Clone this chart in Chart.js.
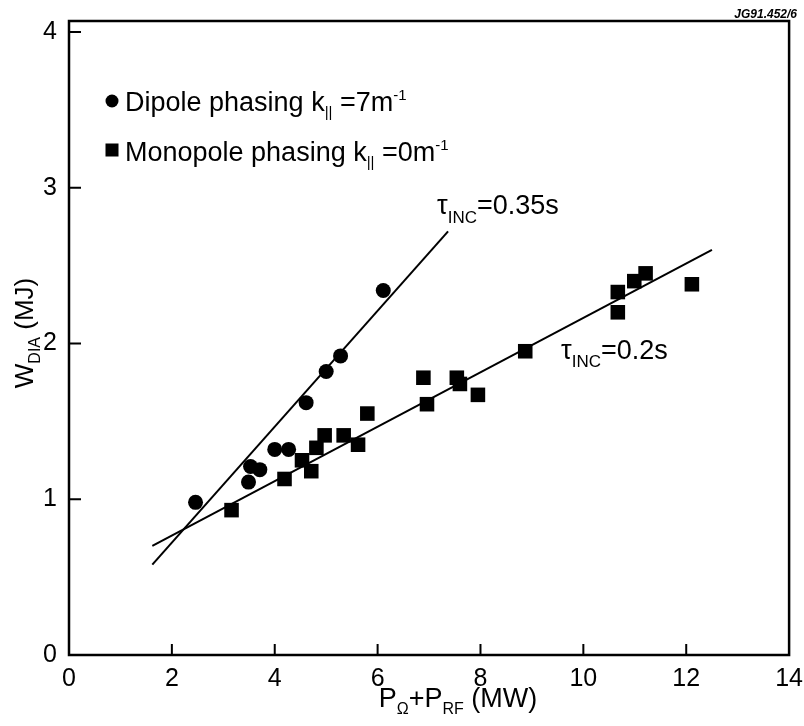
<!DOCTYPE html>
<html><head><meta charset="utf-8">
<script src="https://cdn.jsdelivr.net/npm/chart.js@4"></script>
<style>html,body{margin:0;padding:0;background:#fff;} canvas{display:block}</style>
</head><body>
<canvas id="c" width="804" height="726"></canvas>
<script>
// ---- data ----
const dipoleX = [2.46, 3.49, 3.53, 3.71, 4.00, 4.27, 4.61, 5.00, 5.28, 6.11];
const dipoleY = [0.98, 1.11, 1.21, 1.19, 1.32, 1.32, 1.62, 1.82, 1.92, 2.34];
const monoX = [3.16, 4.19, 4.53, 4.71, 4.81, 4.97, 5.34, 5.62, 5.80, 6.89, 6.96, 7.54, 7.60, 7.95, 8.87, 10.67, 10.67, 10.99, 11.21, 12.11];
const monoY = [0.93, 1.13, 1.25, 1.18, 1.33, 1.41, 1.41, 1.35, 1.55, 1.78, 1.61, 1.78, 1.74, 1.67, 1.95, 2.33, 2.20, 2.40, 2.45, 2.38];
const fit035X = [1.62, 7.37];
const fit035Y = [0.58, 2.72];
const fit02X = [1.62, 12.5];
const fit02Y = [0.70, 2.60];
const xTicks = [0, 2, 4, 6, 8, 10, 12, 14];
const yTicks = [0, 1, 2, 3, 4];
const legendLabels = ['Dipole phasing', 'Monopole phasing'];

const FONT = '"Liberation Sans", Arial, Helvetica, sans-serif';
const pts = (xs, ys) => xs.map((v, i) => ({x: v, y: ys[i]}));

function drawRich(ctx, x, y, parts, align) {
  let w = 0;
  parts.forEach(p => { ctx.font = (p.w || '') + ' ' + p.s + 'px ' + FONT; p.width = ctx.measureText(p.t).width; w += p.width; });
  let cx = align === 'center' ? x - w / 2 : (align === 'right' ? x - w : x);
  ctx.textAlign = 'left'; ctx.textBaseline = 'alphabetic';
  parts.forEach(p => {
    ctx.font = (p.w || '') + ' ' + p.s + 'px ' + FONT;
    ctx.fillText(p.t, cx, y + (p.dy || 0));
    cx += p.width;
  });
}

const decor = {
  id: 'decor',
  afterDraw(chart) {
    const {ctx, chartArea: a, scales: {x, y}} = chart;
    ctx.save();
    ctx.strokeStyle = '#000'; ctx.fillStyle = '#000';
    ctx.lineWidth = 2.5;
    ctx.strokeRect(a.left, a.top, a.right - a.left, a.bottom - a.top);
    ctx.lineWidth = 2;
    ctx.beginPath();
    xTicks.forEach(v => { if (v > x.min && v < x.max) { const p = x.getPixelForValue(v); ctx.moveTo(p, a.bottom); ctx.lineTo(p, a.bottom - 11); } });
    yTicks.forEach(v => { if (v > y.min && v < y.max) { const p = y.getPixelForValue(v); ctx.moveTo(a.left, p); ctx.lineTo(a.left + 12, p); } });
    ctx.stroke();

    // legend
    ctx.beginPath(); ctx.arc(112, 101, 6.5, 0, Math.PI * 2); ctx.fill();
    ctx.fillRect(105.5, 143.5, 13, 13);
    drawRich(ctx, 125, 111, [
      {t: legendLabels[0] + ' k', s: 27}, {t: '||', s: 15, dy: 6}, {t: ' =7m', s: 27}, {t: '-1', s: 15, dy: -11}
    ], 'left');
    drawRich(ctx, 125, 161, [
      {t: legendLabels[1] + ' k', s: 27}, {t: '||', s: 15, dy: 6}, {t: ' =0m', s: 27}, {t: '-1', s: 15, dy: -11}
    ], 'left');

    // fit labels
    drawRich(ctx, 437, 214, [{t: '\u03C4', s: 27}, {t: 'INC', s: 17, dy: 9}, {t: '=0.35s', s: 27}], 'left');
    drawRich(ctx, 561, 359, [{t: '\u03C4', s: 27}, {t: 'INC', s: 17, dy: 8}, {t: '=0.2s', s: 27}], 'left');

    // axis titles
    drawRich(ctx, 458, 707, [{t: 'P', s: 27}, {t: '\u03A9', s: 16, dy: 7}, {t: '+P', s: 27}, {t: 'RF', s: 16, dy: 7}, {t: ' (MW)', s: 27}], 'center');
    ctx.save();
    ctx.translate(33, 333); ctx.rotate(-Math.PI / 2);
    drawRich(ctx, 0, 0, [{t: 'W', s: 26}, {t: 'DIA', s: 16, dy: 7}, {t: ' (MJ)', s: 26}], 'center');
    ctx.restore();

    // figure id
    drawRich(ctx, 797, 18, [{t: 'JG91.452/6', s: 12, w: 'italic bold'}], 'right');
    ctx.restore();
  }
};

new Chart(document.getElementById('c'), {
  type: 'scatter',
  data: {
    datasets: [
      {label: legendLabels[0], data: pts(dipoleX, dipoleY), pointStyle: 'circle', pointRadius: 7.5,
       backgroundColor: '#000', borderColor: '#000', borderWidth: 0},
      {label: legendLabels[1], data: pts(monoX, monoY), pointStyle: 'rect', pointRadius: 10.3,
       backgroundColor: '#000', borderColor: '#000', borderWidth: 0},
      {label: 'fit 0.35', data: pts(fit035X, fit035Y), showLine: true, pointRadius: 0,
       borderColor: '#000', borderWidth: 2},
      {label: 'fit 0.2', data: pts(fit02X, fit02Y), showLine: true, pointRadius: 0,
       borderColor: '#000', borderWidth: 2}
    ]
  },
  options: {
    responsive: false, animation: false, devicePixelRatio: 1,
    layout: {padding: {top: 21, right: 11, left: 0, bottom: 0}},
    plugins: {legend: {display: false}, tooltip: {enabled: false}},
    scales: {
      x: {
        type: 'linear', min: 0, max: 14,
        afterBuildTicks: s => { s.ticks = xTicks.map(v => ({value: v})); },
        afterFit: s => { s.height = 71; },
        grid: {display: false}, border: {display: false},
        ticks: {color: '#000', font: {family: FONT, size: 25}, padding: 1, maxRotation: 0, autoSkip: false}
      },
      y: {
        type: 'linear', min: 0, max: 4.07,
        afterBuildTicks: s => { s.ticks = yTicks.map(v => ({value: v})); },
        afterFit: s => { s.width = 69; },
        grid: {display: false}, border: {display: false},
        ticks: {color: '#000', font: {family: FONT, size: 25}, padding: 4, autoSkip: false}
      }
    }
  },
  plugins: [decor]
});
</script>
</body></html>
